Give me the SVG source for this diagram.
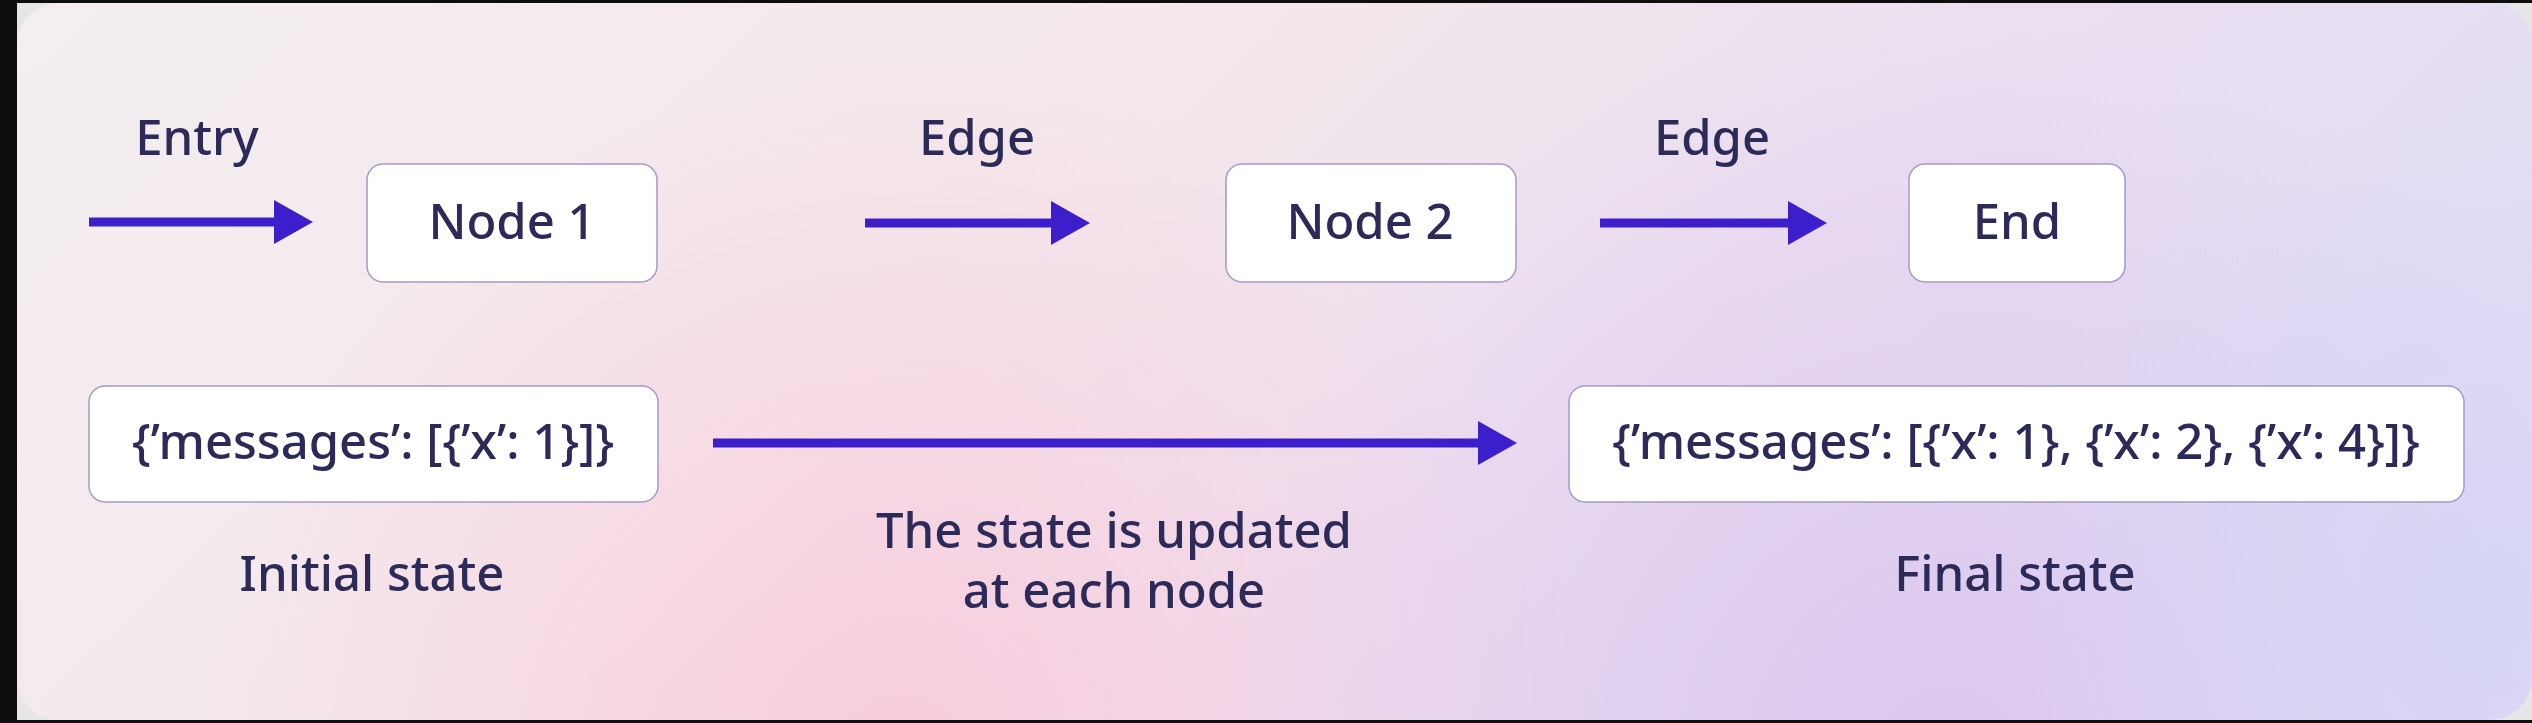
<svg xmlns="http://www.w3.org/2000/svg" width="2532" height="723" viewBox="0 0 2532 723">
<defs>
<style>
.lbl{font-family:"Noto Sans","Liberation Sans",sans-serif;font-weight:500;font-size:49px;fill:#2c2a58;text-anchor:middle}
.box{fill:#ffffff;stroke:#a29bc8;stroke-width:1.5}
.conn{stroke:#3d1ecb;stroke-width:9;fill:none}
</style>
<marker id="ah" markerUnits="userSpaceOnUse" markerWidth="40" markerHeight="44" refX="0" refY="22" orient="auto">
<path d="M0,0 L39,22 L0,44 Z" fill="#3d1ecb"/>
</marker>
<linearGradient id="bgl" x1="0" y1="0" x2="1" y2="0.3">
<stop offset="0" stop-color="#f4eef0"/>
<stop offset="0.45" stop-color="#f4e8ec"/>
<stop offset="0.75" stop-color="#ebdff0"/>
<stop offset="1" stop-color="#e2def4"/>
</linearGradient>
<radialGradient id="pink" cx="900" cy="760" r="700" gradientUnits="userSpaceOnUse">
<stop offset="0" stop-color="#f9cbdc" stop-opacity="0.95"/>
<stop offset="1" stop-color="#f9cbdc" stop-opacity="0"/>
</radialGradient>
<radialGradient id="lav" cx="1950" cy="760" r="750" gradientUnits="userSpaceOnUse">
<stop offset="0" stop-color="#dcc6ef" stop-opacity="0.95"/>
<stop offset="1" stop-color="#dcc6ef" stop-opacity="0"/>
</radialGradient>
<radialGradient id="blue" cx="2500" cy="600" r="500" gradientUnits="userSpaceOnUse">
<stop offset="0" stop-color="#d6d6f6" stop-opacity="0.9"/>
<stop offset="1" stop-color="#d6d6f6" stop-opacity="0"/>
</radialGradient>
<clipPath id="pc"><rect x="17" y="3" width="2515" height="717" rx="42"/></clipPath>
</defs>
<rect x="0" y="0" width="2532" height="723" fill="#0e0e0e"/>
<rect x="17" y="3" width="2515" height="717" fill="#e6e6e8"/>
<g clip-path="url(#pc)">
<rect x="17" y="3" width="2515" height="717" fill="url(#bgl)"/>
<rect x="17" y="3" width="2515" height="717" fill="url(#pink)"/>
<rect x="17" y="3" width="2515" height="717" fill="url(#lav)"/>
<rect x="17" y="3" width="2515" height="717" fill="url(#blue)"/>
</g>

<g id="connectors">
<line class="conn" x1="89" y1="222" x2="274" y2="222" marker-end="url(#ah)"/>
<line class="conn" x1="865" y1="223" x2="1051" y2="223" marker-end="url(#ah)"/>
<line class="conn" x1="1600" y1="223" x2="1788" y2="223" marker-end="url(#ah)"/>
<line class="conn" x1="713" y1="443" x2="1478" y2="443" marker-end="url(#ah)"/>
<text class="lbl" x="197" y="155">Entry</text>
<text class="lbl" x="977" y="155">Edge</text>
<text class="lbl" x="1712" y="155">Edge</text>
<text class="lbl" x="1114" y="548">The state is updated</text>
<text class="lbl" x="1114" y="608">at each node</text>
</g>

<g id="node1">
<rect class="box" x="367" y="164" width="290" height="118" rx="16"/>
<text class="lbl" x="512" y="239">Node 1</text>
</g>
<g id="node2">
<rect class="box" x="1226" y="164" width="290" height="118" rx="16"/>
<text class="lbl" x="1370" y="239">Node 2</text>
</g>
<g id="end">
<rect class="box" x="1909" y="164" width="216" height="118" rx="16"/>
<text class="lbl" x="2017" y="239">End</text>
</g>
<g id="initial-state">
<rect class="box" x="89" y="386" width="569" height="116" rx="16"/>
<text class="lbl" x="373" y="459">{’messages’: [{’x’: 1}]}</text>
<text class="lbl" x="372" y="591">Initial state</text>
</g>
<g id="final-state">
<rect class="box" x="1569" y="386" width="895" height="116" rx="16"/>
<text class="lbl" x="2016" y="459">{’messages’: [{’x’: 1}, {’x’: 2}, {’x’: 4}]}</text>
<text class="lbl" x="2015" y="591">Final state</text>
</g>
</svg>
